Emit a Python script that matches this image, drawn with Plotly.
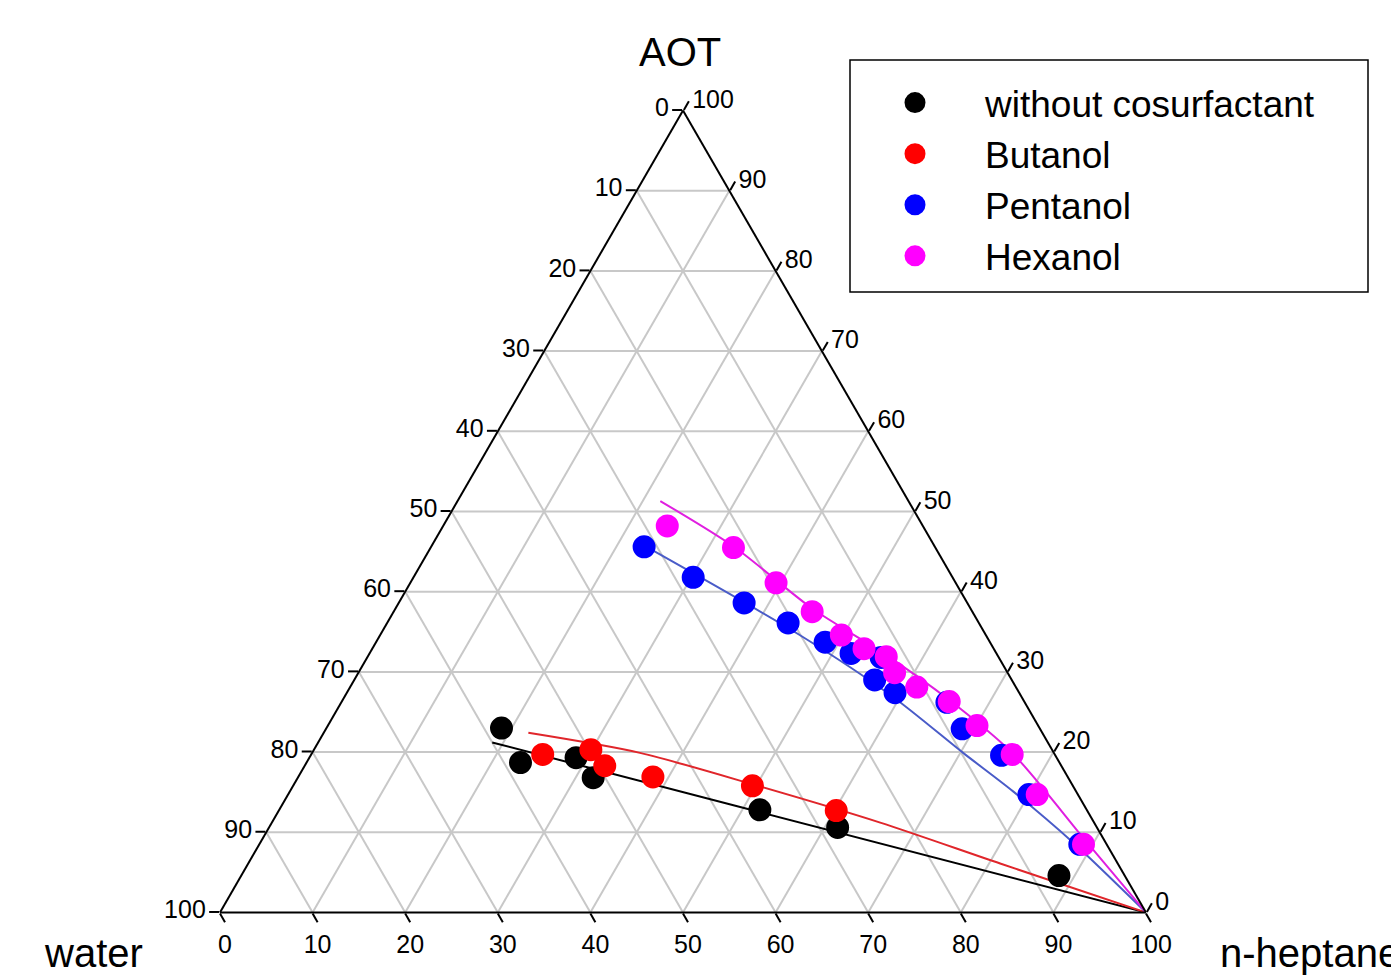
import plotly.graph_objects as go

# ---------------- data (wt %) : AOT (top), water (left), n-heptane (right)
tick_vals = [0, 10, 20, 30, 40, 50, 60, 70, 80, 90, 100]

names = ["without cosurfactant", "Butanol", "Pentanol", "Hexanol"]

none_aot = [23.0, 18.7, 19.3, 16.8, 12.8, 10.6, 4.6]
none_water = [58.1, 58.2, 51.9, 51.3, 35.3, 28.0, 7.1]
none_heptane = [18.9, 23.1, 28.8, 31.9, 51.9, 61.4, 88.3]

but_aot = [19.7, 20.3, 18.3, 16.9, 15.8, 12.7]
but_water = [55.3, 49.8, 49.3, 44.8, 34.6, 27.1]
but_heptane = [25.0, 29.9, 32.4, 38.3, 49.6, 60.2]

pent_aot = [45.6, 41.8, 38.6, 36.1, 33.7, 32.3, 31.8, 29.0, 27.4, 26.2, 22.9, 19.6, 14.7, 8.5]
pent_water = [31.4, 28.0, 24.1, 20.6, 17.8, 15.7, 12.7, 14.8, 13.4, 8.4, 8.4, 5.8, 5.3, 2.9]
pent_heptane = [23.0, 30.2, 37.3, 43.3, 48.5, 52.0, 55.5, 56.2, 59.2, 65.4, 68.7, 74.6, 80.0, 88.6]

hex_aot = [48.2, 45.5, 41.1, 37.5, 34.6, 32.9, 31.9, 29.9, 28.1, 26.3, 23.3, 19.7, 14.7, 8.5]
hex_water = [27.6, 21.8, 19.4, 17.3, 15.6, 14.0, 12.1, 12.2, 10.7, 8.1, 6.6, 4.6, 4.4, 2.5]
hex_heptane = [24.2, 32.7, 39.5, 45.2, 49.8, 53.1, 56.0, 57.9, 61.2, 65.6, 70.1, 75.7, 80.9, 89.0]

# fitted curves
none_fit_aot = [21.2, 12.5, 0.0]
none_fit_water = [60.0, 35.4, 0.0]
none_fit_heptane = [18.8, 52.1, 100.0]

but_fit_aot = [22.4, 19.9, 15.7, 11.2, 6.1, 0.0]
but_fit_water = [55.5, 44.7, 33.8, 23.1, 12.7, 0.0]
but_fit_heptane = [22.1, 35.4, 50.5, 65.7, 81.2, 100.0]

pent_fit_aot = [46.2, 34.6, 26.9, 19.9, 15.1, 8.7, 0.0]
pent_fit_water = [31.8, 20.1, 13.9, 9.8, 6.8, 3.5, 0.0]
pent_fit_heptane = [22.0, 45.3, 59.2, 70.3, 78.1, 87.8, 100.0]

hex_fit_aot = [51.3, 45.6, 37.9, 32.1, 26.5, 19.9, 8.7, 0.0]
hex_fit_water = [26.8, 21.7, 17.1, 12.0, 8.0, 4.5, 2.0, 0.0]
hex_fit_heptane = [21.9, 32.7, 45.0, 55.9, 65.5, 75.6, 89.3, 100.0]

marker_colors = ["#000000", "#ff0000", "#0000ff", "#ff00ff"]
line_colors = ["#000000", "#e0262b", "#4a5cc8", "#e01fe0"]
line_shapes = ["linear", "spline", "spline", "spline"]

points = [
    (none_aot, none_water, none_heptane),
    (but_aot, but_water, but_heptane),
    (pent_aot, pent_water, pent_heptane),
    (hex_aot, hex_water, hex_heptane),
]
fits = [
    (none_fit_aot, none_fit_water, none_fit_heptane),
    (but_fit_aot, but_fit_water, but_fit_heptane),
    (pent_fit_aot, pent_fit_water, pent_fit_heptane),
    (hex_fit_aot, hex_fit_water, hex_fit_heptane),
]

FONT = "Liberation Sans, Arial, sans-serif"

fig = go.Figure()
for (a, b, c), col, shp in zip(fits, line_colors, line_shapes):
    fig.add_trace(go.Scatterternary(a=a, b=b, c=c, mode="lines",
                                    line=dict(color=col, width=2, shape=shp,
                                              smoothing=0.8),
                                    showlegend=False, hoverinfo="skip"))
for (a, b, c), col, nm in zip(points, marker_colors, names):
    fig.add_trace(go.Scatterternary(a=a, b=b, c=c, mode="markers", name=nm,
                                    marker=dict(color=col, size=18,
                                                line=dict(color=col, width=5))))

W, H = 1391, 975


def axis(labels):
    return dict(
        tickmode="array", tickvals=tick_vals, ticktext=labels,
        ticks="outside", ticklen=10, tickwidth=2, tickcolor="black",
        linecolor="black", linewidth=2, showline=True,
        gridcolor="#c8c8c8", gridwidth=1.5, showgrid=True,
        tickfont=dict(family=FONT, size=25, color="black"),
        title=dict(text=""), min=0,
    )


rev = [str(100 - v) for v in tick_vals]

fig.update_layout(
    width=W, height=H,
    margin=dict(l=0, r=0, t=0, b=0),
    paper_bgcolor="white",
    font=dict(family=FONT, color="black"),
    ternary=dict(
        sum=100,
        bgcolor="white",
        domain=dict(x=[220 / W, 1146 / W], y=[(H - 913) / H, (H - 110) / H]),
        aaxis=axis(rev),
        baxis=axis(rev),
        caxis=axis(rev),
    ),
    legend=dict(
        x=845 / W, y=(H - 72) / H, xanchor="left", yanchor="top",
        font=dict(family=FONT, size=37, color="black"),
        bgcolor="rgba(0,0,0,0)", borderwidth=0, itemwidth=130,
    ),
    shapes=[dict(type="rect", xref="paper", yref="paper",
                 x0=850 / W, x1=1368 / W, y0=(H - 292) / H, y1=(H - 60) / H,
                 line=dict(color="black", width=1.5))],
    annotations=[
        dict(text="AOT", xref="paper", yref="paper", x=680 / W, y=(H - 52) / H,
             xanchor="center", yanchor="middle", showarrow=False,
             font=dict(family=FONT, size=40, color="black")),
        dict(text="water", xref="paper", yref="paper", x=93 / W, y=(H - 953) / H,
             xanchor="center", yanchor="middle", showarrow=False,
             font=dict(family=FONT, size=40, color="black")),
        dict(text="n-heptane", xref="paper", yref="paper", x=1218 / W, y=(H - 953) / H,
             xanchor="left", yanchor="middle", showarrow=False,
             font=dict(family=FONT, size=40, color="black")),
    ],
)

fig.write_html("out.html", config={"displayModeBar": False},
               post_script="document.body.style.margin='0';")
